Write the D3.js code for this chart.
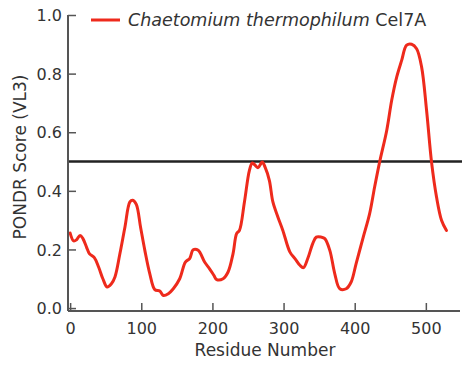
<!DOCTYPE html>
<html><head><meta charset="utf-8">
<script src="https://cdn.jsdelivr.net/npm/d3@7"></script>
<style>
html,body{margin:0;padding:0;background:#fff;}
svg{display:block;}
text{font-family:"DejaVu Sans",Verdana,sans-serif;fill:#333;}
</style></head>
<body>
<svg id="chart" width="462" height="371"></svg>
<script>
const residues = [0,5,9,14,18,23,27,34,40,46,52,58,63,70,77,84,88,93,99,105,112,119,126,131,138,145,154,162,168,173,180,189,196,202,206,215,222,229,234,238,245,252,256,259,264,270,274,280,285,292,299,309,316,323,328,334,341,346,353,358,365,372,379,388,395,402,412,421,428,435,445,452,459,466,473,480,487,494,501,508,515,522,529];
const scores = [0.256,0.229,0.233,0.248,0.237,0.208,0.186,0.172,0.14,0.10,0.072,0.083,0.106,0.186,0.276,0.362,0.368,0.354,0.276,0.197,0.117,0.063,0.058,0.043,0.049,0.066,0.10,0.157,0.169,0.199,0.197,0.157,0.134,0.112,0.097,0.10,0.123,0.186,0.254,0.265,0.362,0.47,0.495,0.49,0.479,0.498,0.481,0.436,0.362,0.311,0.265,0.191,0.169,0.146,0.138,0.169,0.22,0.242,0.242,0.237,0.197,0.117,0.066,0.066,0.089,0.152,0.242,0.322,0.413,0.498,0.606,0.709,0.788,0.845,0.897,0.90,0.885,0.823,0.675,0.498,0.379,0.30,0.265];
const xTicks = [0,100,200,300,400,500];
const yTicks = [0.0,0.2,0.4,0.6,0.8,1.0];
const threshold = 0.5;
const seriesLabelItalic = "Chaetomium thermophilum";
const seriesLabelPlain = "Cel7A";
const xTitle = "Residue Number";
const yTitle = "PONDR Score (VL3)";

const svg = d3.select("#chart");
const x = d3.scaleLinear().domain([-3, 548]).range([68, 460]);
const y = d3.scaleLinear().domain([-0.01, 1.0]).range([311, 15]);
const axisColor = "#555";

// threshold line
svg.append("line")
  .attr("x1", x.range()[0]).attr("x2", 462)
  .attr("y1", y(threshold)).attr("y2", y(threshold))
  .attr("stroke", "#222").attr("stroke-width", 2.5);

// data line
const pts = residues.map((r,i)=>[r, scores[i]]);
svg.append("path")
  .datum(pts)
  .attr("fill","none")
  .attr("stroke","#ee2a1c")
  .attr("stroke-width",3)
  .attr("stroke-linejoin","round")
  .attr("stroke-linecap","round")
  .attr("d", d3.line().x(d=>x(d[0])).y(d=>y(d[1])).curve(d3.curveCatmullRom.alpha(0.5)));

// y axis
const yAxis = svg.append("g").attr("transform",`translate(${x.range()[0]},0)`)
  .call(d3.axisRight(y).tickValues(yTicks).tickSize(8).tickFormat(d3.format(".1f")));
yAxis.select(".domain").attr("stroke",axisColor).attr("stroke-width",2)
  .attr("d",`M0,${y(1.0)}V${y.range()[0]}`);
yAxis.selectAll(".tick line").attr("stroke",axisColor).attr("stroke-width",1.5);
yAxis.selectAll(".tick text").attr("x",-6).attr("text-anchor","end")
  .style("font-size","16px").attr("fill","#444").attr("dy","0.36em");

// x axis
const xAxis = svg.append("g").attr("transform",`translate(0,${y.range()[0]})`)
  .call(d3.axisTop(x).tickValues(xTicks).tickSize(8));
xAxis.select(".domain").attr("stroke",axisColor).attr("stroke-width",2)
  .attr("d",`M${x.range()[0]},0H${x.range()[1]}`);
xAxis.selectAll(".tick line").attr("stroke",axisColor).attr("stroke-width",1.5);
xAxis.selectAll(".tick text").attr("y",23).attr("dy","0")
  .style("font-size","16px").attr("fill","#444");

// titles
svg.append("text").attr("x",265).attr("y",356).attr("text-anchor","middle")
  .style("font-size","17px").text(xTitle);
svg.append("text").attr("transform","translate(26,157) rotate(-90)").attr("text-anchor","middle")
  .style("font-size","17px").text(yTitle);

// legend
svg.append("line").attr("x1",91).attr("x2",120).attr("y1",20).attr("y2",20)
  .attr("stroke","#ee2a1c").attr("stroke-width",3);
const lt = svg.append("text").attr("x",128).attr("y",26).style("font-size","17.5px");
lt.append("tspan").style("font-style","italic").text(seriesLabelItalic);
lt.append("tspan").text(" " + seriesLabelPlain);
</script>
</body></html>
